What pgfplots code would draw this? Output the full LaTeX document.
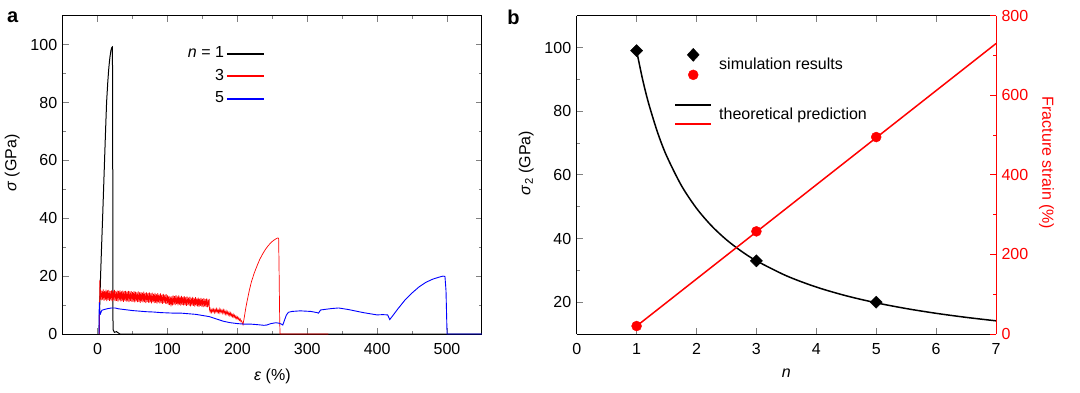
\documentclass[border=0pt]{standalone}
\usepackage{fontspec}
\setmainfont{Liberation Sans}
\usepackage{pgfplots}
\pgfplotsset{compat=1.18}
\begin{document}
\fontsize{16}{19}\selectfont
\begin{tikzpicture}
\useasboundingbox (-62.7pt,-58pt) rectangle (1017.3pt,334pt);
\pgfplotsset{
  every axis/.append style={
    scale only axis, width=419.3pt, height=318.3pt,
    /pgf/number format/assume math mode=true,
    tick label style={font=\fontsize{16}{19}\selectfont},
    xticklabel style={yshift=-4pt},
    label style={font=\fontsize{16}{19}\selectfont},
    xlabel style={yshift=-3pt},
    every axis y label/.append style={at={(ticklabel cs:0.537)}},
    legend style={font=\fontsize{16}{19}\selectfont},
    major tick length=6pt, minor tick length=3pt,
    axis line style={line width=1pt},
    every tick/.append style={line width=0.8pt},
  }
}
% ---------------- panel a ----------------
\begin{axis}[
  at={(0pt,0pt)},
  xmin=-50, xmax=550, ymin=0, ymax=110,
  xtick={0,100,...,500}, ytick={0,20,...,100},
  minor x tick num=1, minor y tick num=1,
  xlabel={\textit{ε} (\%)}, ylabel={\textit{σ} (GPa)},
  legend style={at={(0.49,0.915)}, anchor=north east, draw=none, fill=none, row sep=5pt},
  legend cell align=right, legend plot pos=right,
  legend image code/.code={\draw[#1, line width=2pt] (0pt,0pt) -- (37pt,0pt);},
]
\addplot[black, line width=1pt] coordinates {
(2,0)(3,10)(4.2,20)(5.6,30)(7.1,40)(8.5,50)(9.9,60)(11.3,70)(12.8,80)(14.5,87)(16,92)(17.5,95.5)(19,98)(20.3,99)(21.2,99.2)(21.6,60)(22,1.5)(24,0.6)(27,0.8)(30,0.3)(32,0)(550,0)};
\addlegendentry{\textit{n} = 1}
\addplot[red, line width=0.7pt] coordinates {
(2.5,0)(3,18.5)(3.5,12)
(4,15.3)(5,11.6)(6,15.0)(7,11.9)(8,15.4)(9,11.5)(10,14.9)(11,11.8)(12,15.3)(13,11.4)(14,15.1)(15,11.7)(16,15.2)(17,11.5)(18,14.8)(19,11.6)(20,15.1)(21,11.3)(22,15.0)(23,11.7)(24,15.2)(25,11.4)(26,14.8)(27,11.5)(28,15.0)(29,11.2)(30,14.9)(31,11.6)(32,15.1)(33,11.3)(34,14.7)(35,11.4)(36,15.0)(37,11.1)(38,14.8)(39,11.5)(40,14.9)(41,11.2)(42,14.6)(43,11.3)(44,14.9)(45,11.0)(46,14.7)(47,11.4)(48,14.8)(49,11.1)(50,14.5)(51,11.2)(52,14.8)(53,10.9)(54,14.6)(55,11.3)(56,14.4)(57,11.0)(58,14.7)(59,11.1)(60,14.4)(61,10.8)(62,14.5)(63,11.2)(64,14.3)(65,10.9)(66,14.6)(67,11.0)(68,14.2)(69,10.7)(70,14.4)(71,11.1)(72,14.1)(73,10.8)(74,14.4)(75,10.9)(76,14.0)(77,10.6)(78,14.3)(79,11.0)(80,13.9)(81,10.7)(82,14.2)(83,10.8)(84,13.8)(85,10.5)(86,14.1)(87,10.9)(88,13.7)(89,10.6)(90,14.0)(91,10.7)(92,13.6)(93,10.4)(94,13.9)(95,10.8)(96,13.5)(97,10.5)(98,13.8)(99,10.4)(100,13.3)(101,10.2)(102,13.2)(103,10.0)(104,12.9)(105,9.6)(106,13.0)(107,9.9)(108,13.3)(109,10.2)(110,13.1)(111,10.0)(112,13.4)(113,10.3)(114,13.0)(115,9.9)(116,13.3)(117,10.2)(118,12.9)(119,9.8)(120,13.2)(121,10.1)(122,12.8)(123,9.9)(124,13.1)(125,10.0)(126,12.7)(127,9.7)(128,13.0)(129,10.0)(130,12.6)(131,9.8)(132,12.9)(133,9.6)(134,12.5)(135,9.9)(136,12.8)(137,9.7)(138,12.4)(139,9.5)(140,12.7)(141,9.8)(142,12.3)(143,9.6)(144,12.6)(145,9.4)(146,12.2)(147,9.7)(148,12.5)(149,9.5)(150,12.1)(151,9.3)(152,12.4)(153,9.6)(154,12.0)(155,9.4)(156,12.3)(157,9.2)(158,11.9)(159,9.5)(159.6,12.1)
(160,8.6)(161,7.6)(162,8.7)(163,7.5)(164,8.5)(165,7.7)(166,8.6)(167,7.4)(168,8.5)(169,7.6)(170,8.7)(171,7.5)(172,8.4)(173,7.4)(174,8.6)(175,7.3)(176,8.4)(177,7.5)(178,8.3)(179,7.2)(180,8.3)(181,7.1)(182,8.1)(183,6.9)(184,7.9)(185,6.8)(186,7.7)(187,6.6)(188,7.5)(189,6.4)(190,7.3)(191,6.2)(192,7.0)(193,6.0)(194,6.8)(195,5.8)(196,6.5)(197,5.5)(198,6.2)(199,5.3)(200,5.9)(201,5.0)(202,5.6)(203,4.7)(204,5.2)(205,4.3)(206,4.6)(207,3.8)(208,3.2)
(210,6)(212,9)(214,11.5)(217,15)(220,18)(224,21)(228,23.5)(232,25.8)(236,27.6)(240,29.2)(244,30.5)(248,31.6)(252,32.4)(256,33)(258,33.2)(259,33)(259.5,25)(260.5,5)(261,0)(330,0)};
\addlegendentry{3}
\addplot[blue, line width=0.9pt] coordinates {
(2,0)(2.3,11)(3,8)(4,7)(6,8.2)(10,8.5)(15,8.8)(20,9)(25,9)(30,8.7)(40,8.4)(50,8.1)(60,7.9)(70,7.7)(80,7.6)(90,7.4)(100,7.3)(110,7.2)(120,7.2)(130,7.0)(140,6.8)(150,6.4)(160,6.0)(170,5.2)(180,4.4)(190,3.9)(200,3.6)(210,3.4)(220,3.4)(230,3.2)(238,3.0)(242,3.1)(248,3.6)(255,3.9)(260,3.7)(263,3.4)(265,3.1)(267,4.5)(270,6.5)(273,7.5)(278,7.8)(290,8.0)(305,7.8)(314,7.4)(316,7.2)(319,8.3)(325,8.5)(335,8.8)(345,9.0)(350,8.8)(360,8.4)(370,7.9)(380,7.4)(390,7.0)(400,6.6)(408,6.7)(415,6.6)(418,5.0)(420,5.6)(425,7.2)(430,8.8)(440,11.8)(450,14.2)(460,16.3)(470,17.9)(480,19.0)(488,19.6)(494,20)(497,19.9)(498.5,15)(499.5,5)(500,0)(550,0)};
\addlegendentry{5}
\end{axis}
% ---------------- panel b ----------------
\begin{axis}[
  at={(514pt,0pt)},
  xmin=0, xmax=7, ymin=10, ymax=110,
  xtick={0,1,...,7}, ytick={20,40,...,100}, minor y tick num=1,
  axis y line*=left,
  xlabel={\textit{n}}, ylabel={\textit{σ}\textsubscript{2} (GPa)},
  legend style={at={(0.225,0.905)}, anchor=north west, draw=none, fill=none, row sep=24pt,
    /tikz/every odd column/.append style={column sep=5pt}},
  legend cell align=left,
]
\addplot[black, line width=1.5pt, smooth, forget plot] coordinates {
(1,99)(1.1,90)(1.2,82.5)(1.35,73.33)(1.5,66)(1.75,56.57)(2,49.5)(2.25,44)(2.5,39.6)(2.75,36)(3,33)(3.5,28.29)(4,24.75)(4.5,22)(5,19.8)(5.5,18)(6,16.5)(6.5,15.23)(7,14.14)};
\addplot[only marks, mark=square*, mark size=4.3pt, mark options={rotate=45, fill=black, draw=black}, forget plot] coordinates {(1,99)(3,33)(5,20)};
\addlegendimage{legend image code/.code={
  \fill[black] (18pt,16.5pt) -- (24pt,10pt) -- (18pt,3.5pt) -- (12pt,10pt) -- cycle;
  \fill[red] (18pt,-10pt) circle (5pt);}}
\addlegendentry{simulation results}
\addlegendimage{legend image code/.code={
  \draw[black, line width=2pt] (0pt,9.5pt) -- (36pt,9.5pt);
  \draw[red, line width=2pt] (0pt,-9.5pt) -- (36pt,-9.5pt);}}
\addlegendentry{theoretical prediction}
\end{axis}
\begin{axis}[
  at={(514pt,0pt)},
  xmin=0, xmax=7, ymin=0, ymax=800,
  axis y line*=right, axis x line=none,
  ytick={0,200,...,800}, minor y tick num=1,
  ylabel={Fracture strain (\%)},
  ylabel style={red, rotate=180},
  y axis line style={red},
  ytick style={red},
  yticklabel style={red},
]
\addplot[red, line width=1.5pt] coordinates {(1,20)(7,730)};
\addplot[red, only marks, mark=*, mark size=5pt] coordinates {(1,20)(3,258)(5,495)};
\end{axis}
\node[font=\bfseries\fontsize{20}{22}\selectfont] at (-50pt,317pt) {a};
\node[font=\bfseries\fontsize{20}{22}\selectfont] at (450.8pt,317pt) {b};
\end{tikzpicture}
\end{document}
